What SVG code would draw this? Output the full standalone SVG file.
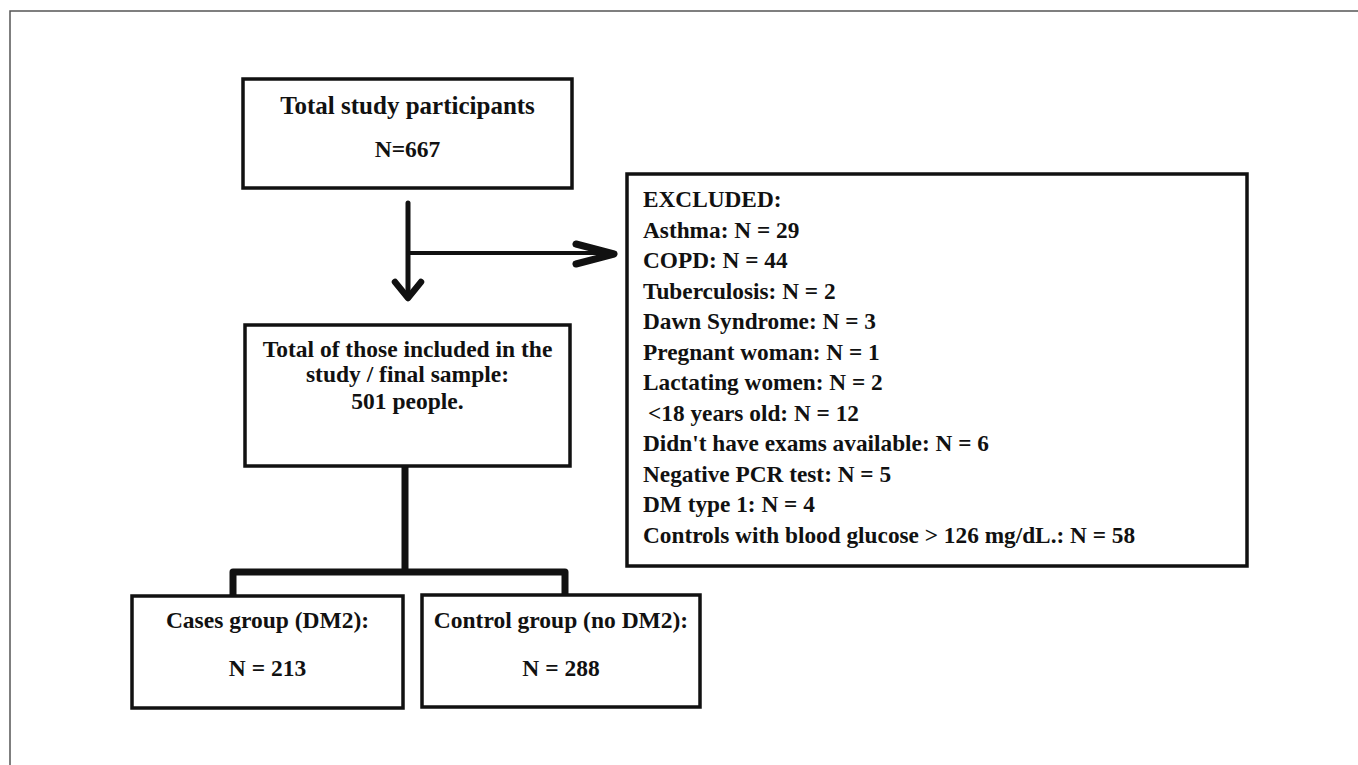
<svg xmlns="http://www.w3.org/2000/svg" width="1358" height="765" viewBox="0 0 1358 765">
<style>
.box{fill:#fff;stroke:#111;stroke-width:3.5}
.t{font-family:"Liberation Serif","Times New Roman",serif;font-weight:bold;font-size:23.5px;fill:#111}
.e{font-size:23.3px}
.c{text-anchor:middle}
.con{fill:none;stroke:#111;stroke-linecap:round;stroke-linejoin:round}
</style>
<rect width="1358" height="765" fill="#fff"/>
<path d="M10,765 V11 H1358" fill="none" stroke="#555" stroke-width="1.5"/>
<g id="connectors">
<path class="con" d="M408,203 V298" stroke-width="5"/>
<path class="con" d="M395,282 L408,298 L421,282" stroke-width="6.5"/>
<path class="con" d="M408,253 H614" stroke-width="4"/>
<path class="con" d="M576,244 L614,254 L576,264" stroke-width="7"/>
<path class="con" d="M405,466 V572 M233,596 V572 H565 V596" stroke-width="7" stroke-linecap="butt"/>
</g>
<g id="total">
<rect class="box" x="243" y="79" width="329" height="109"/>
<text class="t c" x="407.5" y="114" style="font-size:25px">Total study participants</text>
<text class="t c" x="407.5" y="157">N=667</text>
</g>
<g id="included">
<rect class="box" x="245" y="325" width="325" height="141"/>
<text class="t c" x="407.5" y="357">Total of those included in the</text>
<text class="t c" x="407.5" y="382">study / final sample:</text>
<text class="t c" x="407.5" y="409">501 people.</text>
</g>
<g id="excluded">
<rect class="box" x="627" y="174" width="620" height="392"/>
<text class="t e" x="643" y="207">EXCLUDED:</text>
<text class="t e" x="643" y="237.5">Asthma: N = 29</text>
<text class="t e" x="643" y="268">COPD: N = 44</text>
<text class="t e" x="643" y="298.5">Tuberculosis: N = 2</text>
<text class="t e" x="643" y="329">Dawn Syndrome: N = 3</text>
<text class="t e" x="643" y="359.5">Pregnant woman: N = 1</text>
<text class="t e" x="643" y="390">Lactating women: N = 2</text>
<text class="t e" x="648" y="420.5">&lt;18 years old: N = 12</text>
<text class="t e" x="643" y="451">Didn't have exams available: N = 6</text>
<text class="t e" x="643" y="481.5">Negative PCR test: N = 5</text>
<text class="t e" x="643" y="512">DM type 1: N = 4</text>
<text class="t e" x="643" y="542.5">Controls with blood glucose &gt; 126 mg/dL.: N = 58</text>
</g>
<g id="cases">
<rect class="box" x="132" y="596" width="271" height="112"/>
<text class="t c" x="267.5" y="628">Cases group (DM2):</text>
<text class="t c" x="267.5" y="676">N = 213</text>
</g>
<g id="control">
<rect class="box" x="422" y="595" width="278" height="112"/>
<text class="t c" x="561" y="628">Control group (no DM2):</text>
<text class="t c" x="561" y="676">N = 288</text>
</g>
</svg>
